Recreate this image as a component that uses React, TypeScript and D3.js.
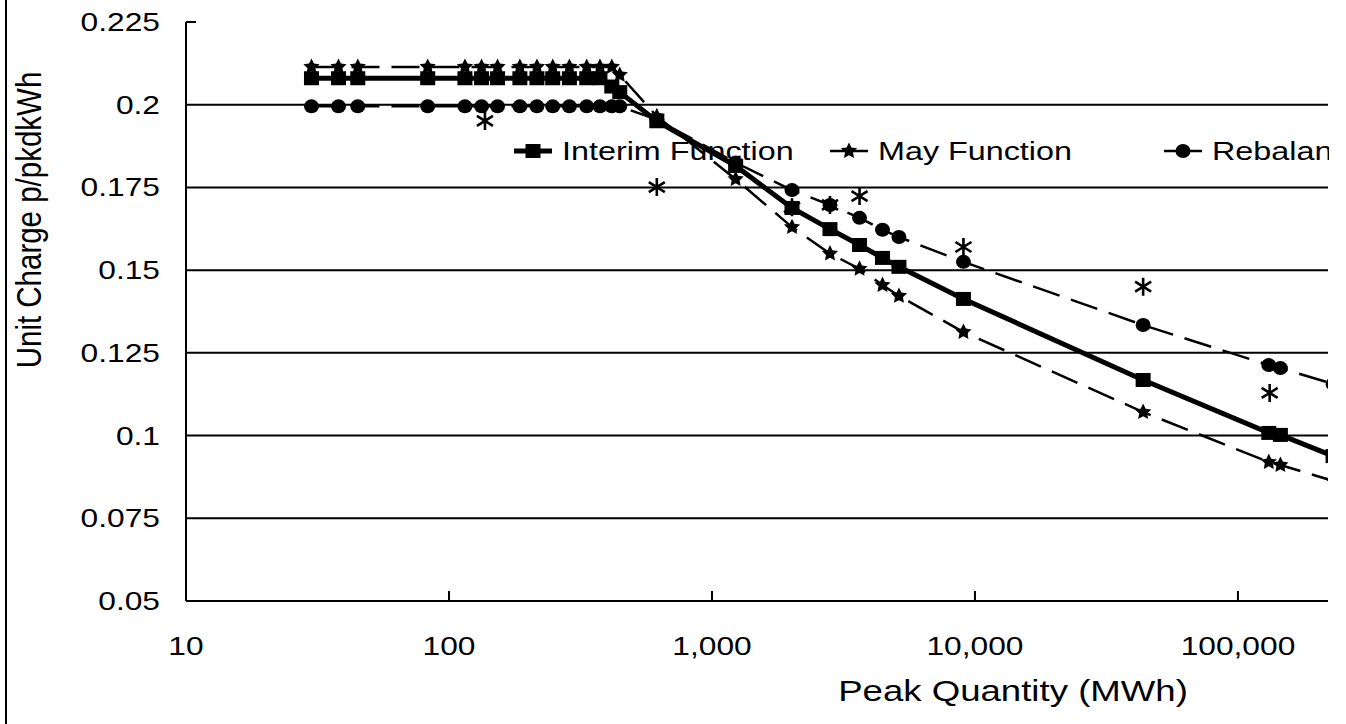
import React from "react";
import * as d3 from "d3";

// peak quantity bands (MWh) shared by the three functions
const quantities = [
  30, 38, 45, 83, 115, 133, 153, 186, 216, 248, 287, 334, 375, 416, 446, 617,
  1230, 2015, 2810, 3640, 4450, 5140, 9040, 43600, 131000, 145000, 230000,
];

const interim = [
  0.208, 0.208, 0.208, 0.208, 0.208, 0.208, 0.208, 0.208, 0.208, 0.208, 0.208,
  0.208, 0.208, 0.2055, 0.2038, 0.195, 0.1815, 0.1688, 0.1624, 0.1576, 0.1537,
  0.151, 0.1413, 0.1168, 0.1008, 0.1002, 0.0938,
];

const may = [
  0.2114, 0.2114, 0.2114, 0.2114, 0.2114, 0.2114, 0.2114, 0.2114, 0.2114,
  0.2114, 0.2114, 0.2114, 0.2114, 0.2114, 0.209, 0.1965, 0.1775, 0.163, 0.155,
  0.1504, 0.1455, 0.1422, 0.1313, 0.1071, 0.092, 0.0911, 0.0863,
];

const rebalancing = [
  0.1995, 0.1995, 0.1995, 0.1995, 0.1995, 0.1995, 0.1995, 0.1995, 0.1995,
  0.1995, 0.1995, 0.1995, 0.1995, 0.1995, 0.1995, 0.1955, 0.1825, 0.1742,
  0.1697, 0.1658, 0.1622, 0.16, 0.1525, 0.1334, 0.1213, 0.1204, 0.1156,
];

// marker-only series (asterisks), its legend entry is off the picture
const pointQty = [137, 617, 2015, 2810, 3640, 9040, 43600, 132000];
const pointValues = [0.1951, 0.1751, 0.169, 0.1697, 0.1724, 0.157, 0.145, 0.1129];

const seriesNames = ["Interim Function", "May Function", "Rebalancing Function"];

const yTicks = [0.05, 0.075, 0.1, 0.125, 0.15, 0.175, 0.2, 0.225];
const xTicks = [10, 100, 1000, 10000, 100000];

const W = 1346;
const H = 724;
const CLIP_W = 1329; // everything in the original stops here
const left = 186;
const right = 1328;
const top = 22;
const bottom = 601;
const SX = 1.22; // the original is stretched horizontally
const FONT = "'Liberation Sans', Arial, sans-serif";

const x = d3.scaleLog().domain([10, 220000]).range([left, right]);
const y = d3.scaleLinear().domain([0.05, 0.225]).range([bottom, top]);

const line = d3
  .line<number>()
  .x((_, i) => x(quantities[i]))
  .y((d) => y(d));

// chunky five point star like the spreadsheet marker
const starPath = (() => {
  const pts: [number, number][] = [];
  for (let k = 0; k < 10; k++) {
    const r = k % 2 === 0 ? 8.5 : 4.2;
    const a = (Math.PI / 5) * k - Math.PI / 2;
    pts.push([r * Math.cos(a), r * Math.sin(a)]);
  }
  return "M" + pts.map((p) => p.join(",")).join("L") + "Z";
})();
const asteriskPath = "M0,-9L0,9M-8,-5L8,5M-8,5L8,-5";

function Txt({ x, y, size, anchor = "start", rotate = false, children }: any) {
  const tr = `translate(${x},${y}) scale(${SX},1)${rotate ? " rotate(-90)" : ""}`;
  return (
    <text transform={tr} fontSize={size} textAnchor={anchor} fontFamily={FONT} fill="#000">
      {children}
    </text>
  );
}

function Marker({ kind, cx, cy }: { kind: number; cx: number; cy: number }) {
  if (kind === 0) return <rect x={cx - 7.5} y={cy - 7} width={15} height={14} fill="#000" />;
  if (kind === 1) return <path d={starPath} transform={`translate(${cx},${cy})`} fill="#000" />;
  return <ellipse cx={cx} cy={cy} rx={7.5} ry={7} fill="#000" />;
}

const seriesStyle = [
  { width: 5, dash: undefined },
  { width: 2.5, dash: "28 12" },
  { width: 2.5, dash: "28 12" },
];

export default function App() {
  const series = [interim, may, rebalancing];
  const fmtY = d3.format("~g");
  const fmtX = d3.format(",");
  const legendX = [514, 830, 1164];
  const legendY = 151;

  return (
    <svg
      width={W}
      height={H}
      style={{ position: "absolute", left: 0, top: 0, background: "#fff" }}
    >
      <defs>
        <clipPath id="plot">
          <rect x={left} y={top - 10} width={right - left} height={bottom - top + 10} />
        </clipPath>
        <clipPath id="all">
          <rect x={0} y={0} width={CLIP_W} height={H} />
        </clipPath>
      </defs>
      <rect width={W} height={H} fill="#fff" />
      <g clipPath="url(#all)">
        <line x1={6} x2={6} y1={0} y2={H} stroke="#000" strokeWidth={2} />

        {/* grid + y ticks */}
        {yTicks.map((t) => (
          <g key={t}>
            <line
              x1={left}
              x2={t === 0.225 ? left + 10 : right}
              y1={y(t)}
              y2={y(t)}
              stroke="#000"
              strokeWidth={2}
            />
            <Txt x={160} y={y(t) + 9} size={26} anchor="end">
              {fmtY(t)}
            </Txt>
          </g>
        ))}

        {/* x ticks */}
        {xTicks.map((t) => (
          <g key={t}>
            <line x1={x(t)} x2={x(t)} y1={bottom} y2={bottom - 10} stroke="#000" strokeWidth={2} />
            <Txt x={x(t)} y={655} size={26} anchor="middle">
              {fmtX(t)}
            </Txt>
          </g>
        ))}

        <line x1={left} x2={left} y1={top} y2={bottom} stroke="#000" strokeWidth={2} />
        <line x1={left} x2={right} y1={bottom} y2={bottom} stroke="#000" strokeWidth={2} />

        <g clipPath="url(#plot)">
          {series.map((vals, si) => (
            <path
              key={si}
              d={line(vals) as string}
              fill="none"
              stroke="#000"
              strokeWidth={seriesStyle[si].width}
              strokeDasharray={seriesStyle[si].dash}
            />
          ))}
          {series.map((vals, si) =>
            vals.map((v, i) => <Marker key={si + "-" + i} kind={si} cx={x(quantities[i])} cy={y(v)} />)
          )}
          {pointQty.map((q, i) => (
            <path
              key={"p" + i}
              d={asteriskPath}
              transform={`translate(${x(q)},${y(pointValues[i])})`}
              stroke="#000"
              strokeWidth={2.6}
              fill="none"
            />
          ))}
        </g>

        {/* legend */}
        {seriesNames.map((name, si) => (
          <g key={name}>
            <line
              x1={legendX[si]}
              x2={legendX[si] + 38}
              y1={legendY}
              y2={legendY}
              stroke="#000"
              strokeWidth={seriesStyle[si].width}
            />
            <Marker kind={si} cx={legendX[si] + 19} cy={legendY} />
            <Txt x={legendX[si] + 48} y={legendY + 9} size={26.5}>
              {name}
            </Txt>
          </g>
        ))}

        <Txt x={1013} y={701} size={30} anchor="middle">
          Peak Quantity (MWh)
        </Txt>
        <Txt x={41} y={220} size={29.5} anchor="middle" rotate>
          Unit Charge p/pkdkWh
        </Txt>
      </g>
    </svg>
  );
}
